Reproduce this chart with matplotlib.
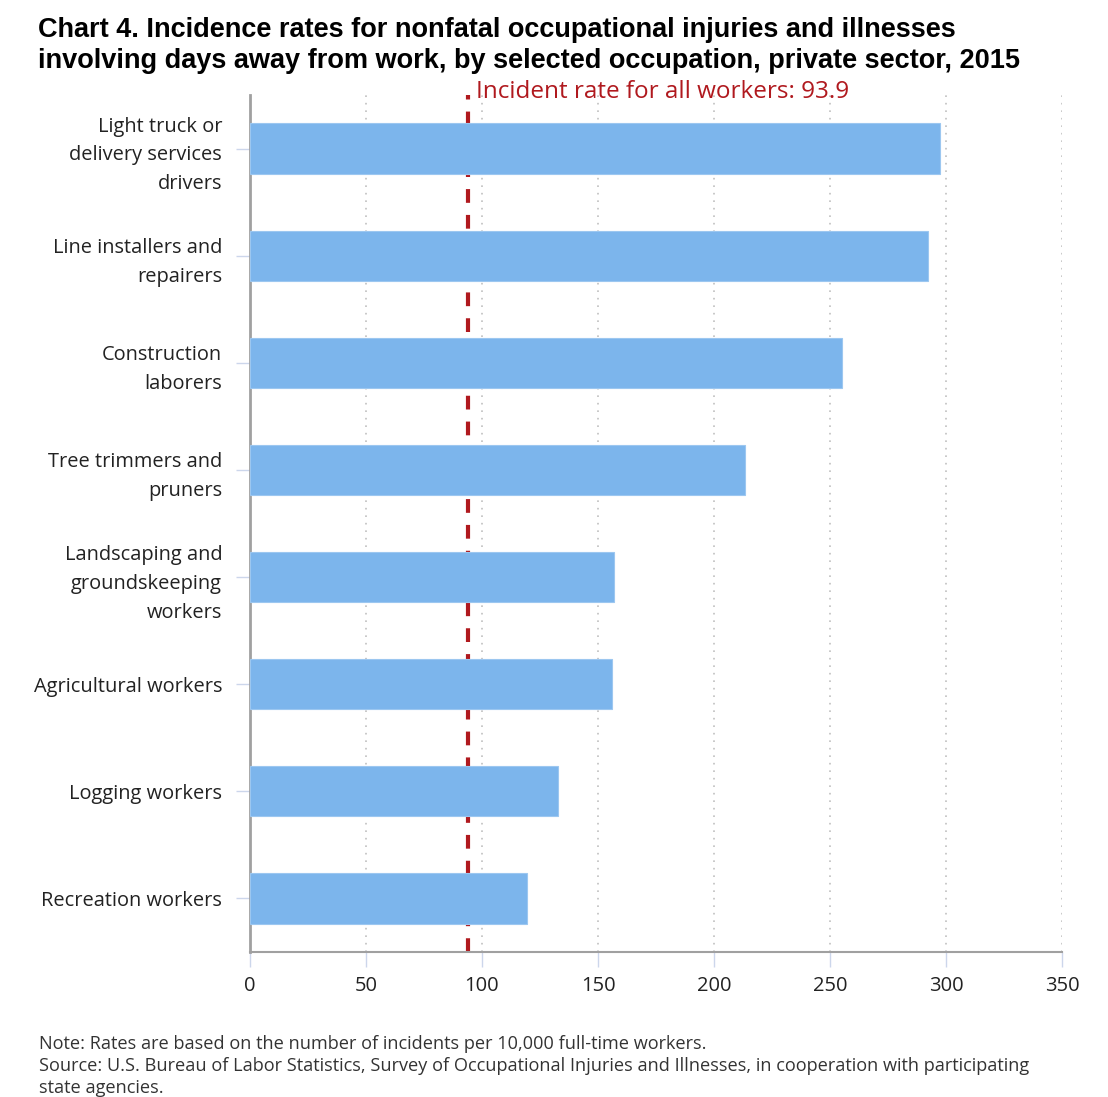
import matplotlib.pyplot as plt

# Данные
occupations = [
    "Light truck or\ndelivery services\ndrivers",
    "Line installers and\nrepairers",
    "Construction\nlaborers",
    "Tree trimmers and\npruners",
    "Landscaping and\ngroundskeeping\nworkers",
    "Agricultural workers",
    "Logging workers",
    "Recreation workers",
]
rates = [297.4, 292.2, 255.2, 213.4, 156.9, 156.0, 132.8, 119.4]
all_workers_rate = 93.9
x_ticks = [0, 50, 100, 150, 200, 250, 300, 350]

plt.rcParams['font.family'] = ['Open Sans', 'DejaVu Sans']

fig = plt.figure(figsize=(11.08, 10.97), dpi=100)
ax = fig.add_axes([0.2256, 0.1322, 0.7329, 0.7812])

positions = list(range(len(occupations)))
ax.barh(positions, rates, height=0.47, color='#7cb5ec', edgecolor='#9cc7f0', linewidth=0.8, zorder=3)

# Линия для всех работников
ax.axvline(all_workers_rate, color='#b0191e', linewidth=3, linestyle=(0, (3.3, 2.9)), zorder=2)
ax.text(all_workers_rate + 3.5, -0.53, f"Incident rate for all workers: {all_workers_rate}",
        color='#b0191e', fontsize=17.5, va='center', ha='left', zorder=4, clip_on=False)

ax.set_xlim(0, 350)
ax.set_ylim(len(occupations) - 0.5, -0.5)
ax.set_xticks(x_ticks)
ax.set_yticks(positions)
ax.set_yticklabels(occupations, fontsize=14.4, color='#222222', linespacing=1.58)
ax.tick_params(axis='x', length=11, width=1, color='#ccd6eb', labelsize=14.5, labelcolor='#222222', pad=6)
ax.tick_params(axis='y', length=10, width=1, color='#ccd6eb', pad=10)

ax.grid(axis='x', linestyle=(0, (1, 3.5)), color='#c0c0c0', linewidth=1.2, zorder=0)
ax.set_axisbelow(True)

for side in ['top', 'right']:
    ax.spines[side].set_visible(False)
ax.spines['left'].set_color('#a0a0a0')
ax.spines['left'].set_linewidth(2)
ax.spines['bottom'].set_color('#a0a0a0')
ax.spines['bottom'].set_linewidth(1.5)

fig.text(0.034, 0.9585, "Chart 4. Incidence rates for nonfatal occupational injuries and illnesses\n"
         "involving days away from work, by selected occupation, private sector, 2015",
         fontsize=19.5, fontweight='bold', family='Liberation Sans', va='center', ha='left',
         linespacing=1.23, color='#000000')

fig.text(0.035, 0.0565, "Note: Rates are based on the number of incidents per 10,000 full-time workers.\n"
         "Source: U.S. Bureau of Labor Statistics, Survey of Occupational Injuries and Illnesses, in cooperation with participating\n"
         "state agencies.",
         fontsize=13.05, va='top', ha='left', linespacing=1.3, color='#333333')

fig.savefig("out.png", dpi=100)
